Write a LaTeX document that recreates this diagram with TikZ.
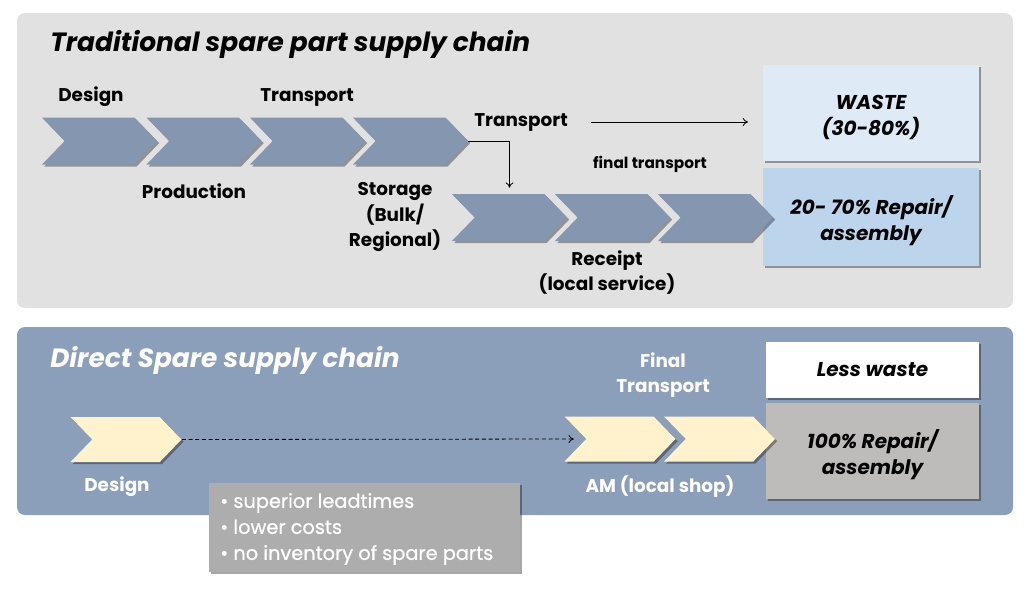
\documentclass[tikz,border=0pt]{standalone}
\usepackage{fontspec}
\setmainfont{Poppins}
\newfontfamily\notefont{Poppins}[FakeBold=0.7]
\usetikzlibrary{shapes.symbols,shadows,arrows.meta}
\definecolor{panelA}{HTML}{E1E1E1}
\definecolor{panelB}{HTML}{8C9FBA}
\definecolor{chevB}{HTML}{8496B0}
\definecolor{chevY}{HTML}{FFF2CC}
\definecolor{wasteC}{HTML}{DEEAF6}
\definecolor{repairC}{HTML}{BDD5EC}
\definecolor{fullC}{HTML}{BEBBBB}
\definecolor{noteC}{HTML}{ADADAD}
\tikzset{
  shad/.style={drop shadow={shadow xshift=1.6pt,shadow yshift=-1.6pt,fill=black,opacity=0.35}},
  chev/.style 2 args={shape=signal, signal from=west, signal to=east, signal pointer angle=92,
    inner sep=0pt, minimum width=#1*0.75pt, minimum height=#2*0.75pt, shad},
  chevblue/.style={chev={115}{47}, fill=chevB},
  chevyel/.style={chev={111}{45}, fill=chevY},
  lab/.style={font=\fontsize{13.8}{18.8}\selectfont\bfseries, align=center, inner sep=0pt},
  wlab/.style={lab, text=white},
  ttl/.style={font=\fontsize{19.8}{24}\selectfont\bfseries\itshape, inner sep=0pt, anchor=base west},
  box/.style 2 args={rectangle, inner sep=0pt, minimum width=#1*0.75pt, minimum height=#2*0.75pt, shad},
  boxtext/.style={inner sep=0pt, align=center, font=\fontsize{15}{19.5}\selectfont\bfseries\itshape},
  conn/.style={line width=0.6pt, -{To[length=4pt,width=6pt]}},
}
\begin{document}
\begin{tikzpicture}[x=0.75pt,y=-0.75pt]
\useasboundingbox (0,0) rectangle (1024,594);
% panels
\fill[panelA, rounded corners=6pt] (17,13) rectangle (1013,308);
\fill[panelB, rounded corners=6pt] (17,327) rectangle (1013,515);
% titles
\node[ttl] (t1) at (50,51) {Traditional spare part supply chain};
\node[ttl, text=white] (t2) at (50,367) {Direct Spare supply chain};
% right boxes top
\node[box={216}{96}, fill=wasteC] (waste) at (871,113) {};
\node[boxtext] (wastetext) at ([yshift=-3.5pt]waste.center) {WASTE\\(30-80\%)};
\node[box={216}{98}, fill=repairC] (repair) at (871,217) {};
\node[boxtext] (repairtext) at ([yshift=-3pt]repair.center) {20- 70\% Repair/\\assembly};
% top chevrons
\node[chevblue] (c1) at (99.5,141) {};
\node[chevblue] (c2) at (204,141) {};
\node[chevblue] (c3) at (307.5,141) {};
\node[chevblue] (c4) at (410.5,141) {};
\node[chevblue] (b1) at (509.5,217.5) {};
\node[chevblue] (b2) at (612.5,217.5) {};
\node[chevblue] (b3) at (715.5,217.5) {};
% top labels
\node[lab] (ldesign) at (91,97) {Design};
\node[lab] (lprod) at (194,191) {Production};
\node[lab] (ltr1) at (307,97) {Transport};
\node[lab] (lstor) at (395,217) {Storage\\(Bulk/\\Regional)};
\node[lab] (ltr2) at (521,122) {Transport};
\node[lab, font=\fontsize{11.5}{13}\selectfont\bfseries] (lfinal) at (650,164) {final transport};
\node[lab] (lrec) at (607,273) {Receipt\\(local service)};
% top connectors
\draw[conn] (c4.east) -| ([yshift=4.5pt]b1.north);
\draw[conn] ([xshift=17pt]ltr2.east |- 0,122) -- ([xshift=-11pt]waste.west |- 0,122);
% bottom boxes
\node[box={213}{56}, fill=white] (less) at (872.5,370) {};
\node[boxtext] (lesstext) at (less.center) {Less waste};
\node[box={213}{96}, fill=fullC] (full) at (872.5,451) {};
\node[boxtext] (fulltext) at ([yshift=-3pt]full.center) {100\% Repair/\\assembly};
% bottom chevrons
\node[chevyel] (d1) at (126,439.5) {};
\node[chevyel] (a1) at (620,439) {};
\node[chevyel] (a2) at (719.5,439) {};
% bottom labels
\node[wlab] (ldesign2) at (117,487) {Design};
\node[wlab] (lft) at (663,375) {Final\\Transport};
\node[wlab] (lam) at (660,487) {AM (local shop)};
% dashed connector
\draw[conn, dashed, dash pattern=on 3pt off 2pt] (d1.east) -- ([xshift=-9pt]a1.west);
% note box
\node[rectangle, fill=noteC, shad, minimum width=311*0.75pt, minimum height=89*0.75pt, inner sep=0pt] (note) at (364.5,527.5) {};
\node[anchor=west, inner sep=0pt, text=white, align=left, font=\notefont\fontsize{14.5}{19.5}\selectfont] (notetext) at (220,529)
  {• superior leadtimes\\• lower costs\\• no inventory of spare parts};
\end{tikzpicture}
\end{document}
